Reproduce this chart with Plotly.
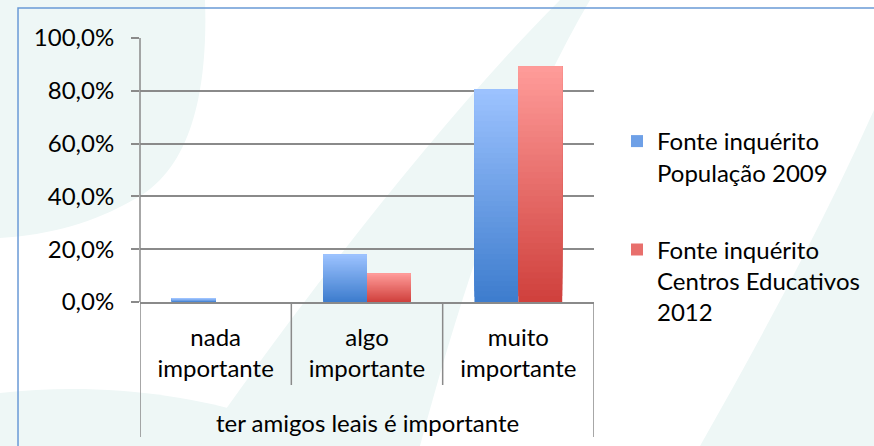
import plotly.graph_objects as go

# ---------------- data ----------------
categories = ["nada<br>importante", "algo<br>importante", "muito<br>importante"]
group_label = "ter amigos leais é importante"
series_names = [
    "Fonte inquérito<br>População 2009",
    "Fonte inquérito<br>Centros Educativos<br>2012",
]
populacao_2009 = [1.5, 18.0, 80.6]
centros_educativos_2012 = [0.0, 10.8, 89.3]
y_max = 100
y_step = 20

# ---------------- style ----------------
W, H = 874, 446
L, R, T, B = 140, 594, 38, 302
FONT = "Lato, 'Open Sans', sans-serif"
GRID = "#8a8a8a"
TINT = "#eef7f6"
grad = [  # (bottom colour, top colour)
    ((0x3d, 0x7c, 0xcd), (0x9d, 0xc3, 0xff)),
    ((0xcf, 0x40, 0x3c), (0xff, 0x9c, 0x9a)),
]
NSEG = 40


def px(x):
    return (x - L) / (R - L)


def py(y):
    return (B - y) / (B - T)


def mix(c0, c1, t):
    return "rgb(%d,%d,%d)" % tuple(round(a + (b - a) * t) for a, b in zip(c0, c1))


fig = go.Figure()
series = [populacao_2009, centros_educativos_2012]
xpos = list(range(len(categories)))
for s, vals in enumerate(series):
    c0, c1 = grad[s]
    for k in range(NSEG):
        # each layer runs from its base up to the bar top; later layers cover
        # the upper part, giving a seamless vertical gradient
        fig.add_trace(go.Bar(
            x=xpos,
            y=[v * (NSEG - k) / NSEG for v in vals],
            base=[v * k / NSEG for v in vals],
            offsetgroup=str(s),
            legendgroup=str(s),
            name=series_names[s],
            showlegend=(k == NSEG // 2),
            marker=dict(color=mix(c0, c1, (k + 0.5) / NSEG), line=dict(width=0)),
            hoverinfo="skip",
        ))


# ---------------- background decoration ----------------
def path(points_cmd):
    out = []
    for cmd in points_cmd:
        if isinstance(cmd, str):
            out.append(cmd)
        else:
            out.append("%.4f,%.4f" % (px(cmd[0]), py(cmd[1])))
    return " ".join(out)


shapes = []
bg_paths = [
    ["M", (0, 0), "L", (205, 0), "C", (208, 90), (192, 170), (133, 200),
     "C", (95, 222), (50, 235), (0, 238), "Z"],
    ["M", (0, 393), "C", (120, 380), (240, 400), (330, 446), "L", (0, 446), "Z"],
    ["M", (200, 446), "C", (280, 330), (430, 130), (560, 0), "L", (590, 0),
     "C", (520, 120), (470, 260), (420, 446), "Z"],
    ["M", (874, 110), "C", (820, 230), (760, 340), (700, 446), "L", (874, 446), "Z"],
]
for p in bg_paths:
    shapes.append(dict(type="path", xref="paper", yref="paper", path=path(p),
                       fillcolor=TINT, line=dict(width=0), layer="below"))

# frame (left and top edges visible)
shapes.append(dict(type="path", xref="paper", yref="paper",
                   path=path(["M", (18, 460), "L", (18, 8), "L", (890, 8)]),
                   line=dict(color="#6a9ad6", width=1.5), layer="below"))

# category axis dividers
for xb, bottom in [(-0.5, 437), (0.5, 385), (1.5, 385), (2.5, 437)]:
    shapes.append(dict(type="line", xref="x", yref="paper", x0=xb, x1=xb,
                       y0=0, y1=py(bottom), line=dict(color=GRID, width=1.5)))
# y axis line
shapes.append(dict(type="line", xref="paper", yref="paper", x0=0, x1=0,
                   y0=1, y1=0, line=dict(color=GRID, width=1.5)))

fig.update_layout(
    width=W, height=H,
    margin=dict(l=L, r=W - R, t=T, b=H - B, autoexpand=False),
    paper_bgcolor="white",
    plot_bgcolor="rgba(0,0,0,0)",
    separators=",.",
    font=dict(family=FONT, size=24, color="#000000"),
    barmode="group",
    bargap=0.42,
    bargroupgap=0,
    shapes=shapes,
    showlegend=True,
    legend=dict(
        x=px(617), xanchor="left", y=py(119), yanchor="top",
        traceorder="grouped", tracegroupgap=43, valign="top",
        font=dict(size=24, family=FONT), bgcolor="rgba(0,0,0,0)",
    ),
    annotations=[dict(
        text=group_label, x=1, xref="x", y=py(422), yref="paper",
        showarrow=False, xanchor="center", yanchor="middle",
        font=dict(size=24, family=FONT),
    )],
)
fig.update_xaxes(
    range=[-0.5, 2.5], tickvals=xpos, ticktext=categories,
    showgrid=False, zeroline=False, showline=True, linecolor=GRID, linewidth=1.5,
    ticks="", ticklabelstandoff=13,
)
fig.update_yaxes(
    range=[0, y_max], tickmode="linear", tick0=0, dtick=y_step,
    tickformat=".1f", ticksuffix="%", showticksuffix="all",
    showgrid=True, gridcolor=GRID, gridwidth=1.5, zeroline=False,
    ticks="outside", ticklen=8, tickcolor=GRID, tickwidth=1.5,
    ticklabelstandoff=12, showline=False,
)

fig.write_html(
    "out.html",
    config={"displayModeBar": False},
    post_script="document.body.style.margin='0';document.body.style.overflow='hidden';",
)
